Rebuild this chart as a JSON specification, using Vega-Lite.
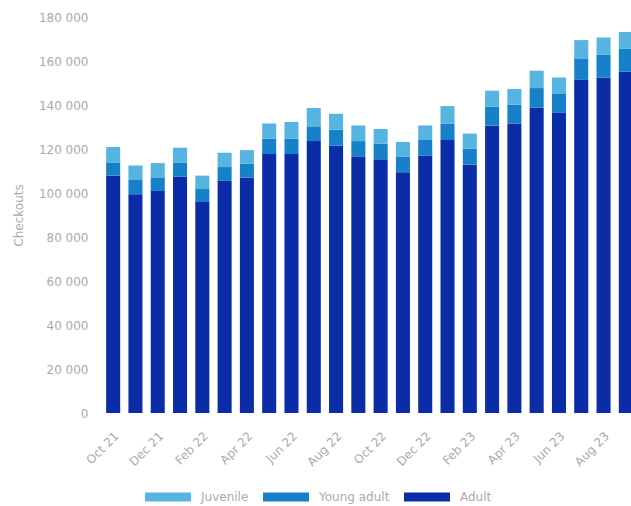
{
  "$schema": "https://vega.github.io/schema/vega-lite/v6.json",
  "width": 549,
  "height": 396,
  "autosize": {"type": "none"},
  "padding": {"left": 95, "top": 17, "right": 0, "bottom": 93},
  "background": "white",
  "config": {"view": {"stroke": null}, "font": "DejaVu Sans"},
  "data": {
    "values": [
      {"month": "Oct 21", "Adult": 108000, "Young adult": 5900, "Juvenile": 7000},
      {"month": "Nov 21", "Adult": 99400, "Young adult": 6500, "Juvenile": 6600},
      {"month": "Dec 21", "Adult": 100900, "Young adult": 6200, "Juvenile": 6500},
      {"month": "Jan 22", "Adult": 107500, "Young adult": 6400, "Juvenile": 6700},
      {"month": "Feb 22", "Adult": 95900, "Young adult": 5900, "Juvenile": 6100},
      {"month": "Mar 22", "Adult": 105500, "Young adult": 6300, "Juvenile": 6500},
      {"month": "Apr 22", "Adult": 107100, "Young adult": 6200, "Juvenile": 6200},
      {"month": "May 22", "Adult": 117700, "Young adult": 7000, "Juvenile": 6900},
      {"month": "Jun 22", "Adult": 117700, "Young adult": 7000, "Juvenile": 7600},
      {"month": "Jul 22", "Adult": 123600, "Young adult": 6700, "Juvenile": 8300},
      {"month": "Aug 22", "Adult": 121500, "Young adult": 7300, "Juvenile": 7200},
      {"month": "Sep 22", "Adult": 116400, "Young adult": 7200, "Juvenile": 7100},
      {"month": "Oct 22", "Adult": 115300, "Young adult": 7100, "Juvenile": 6700},
      {"month": "Nov 22", "Adult": 109400, "Young adult": 7000, "Juvenile": 6800},
      {"month": "Dec 22", "Adult": 117000, "Young adult": 7100, "Juvenile": 6600},
      {"month": "Jan 23", "Adult": 124100, "Young adult": 7500, "Juvenile": 7900},
      {"month": "Feb 23", "Adult": 113000, "Young adult": 7100, "Juvenile": 6900},
      {"month": "Mar 23", "Adult": 130600, "Young adult": 8600, "Juvenile": 7300},
      {"month": "Apr 23", "Adult": 131600, "Young adult": 8500, "Juvenile": 7200},
      {"month": "May 23", "Adult": 138900, "Young adult": 8800, "Juvenile": 7900},
      {"month": "Jun 23", "Adult": 136400, "Young adult": 8600, "Juvenile": 7500},
      {"month": "Jul 23", "Adult": 151400, "Young adult": 9800, "Juvenile": 8300},
      {"month": "Aug 23", "Adult": 152400, "Young adult": 10500, "Juvenile": 7800},
      {"month": "Sep 23", "Adult": 155100, "Young adult": 10400, "Juvenile": 7700}
    ]
  },
  "transform": [
    {"fold": ["Adult", "Young adult", "Juvenile"], "as": ["group", "checkouts"]},
    {"calculate": "indexof(['Adult','Young adult','Juvenile'], datum.group)", "as": "stackOrder"}
  ],
  "mark": {"type": "bar"},
  "encoding": {
    "x": {
      "field": "month",
      "type": "ordinal",
      "sort": null,
      "scale": {"paddingInner": 0.37, "paddingOuter": 0.5},
      "axis": {
        "title": null,
        "values": ["Oct 21", "Dec 21", "Feb 22", "Apr 22", "Jun 22", "Aug 22", "Oct 22", "Dec 22", "Feb 23", "Apr 23", "Jun 23", "Aug 23"],
        "labelAngle": -45,
        "ticks": false,
        "domain": false,
        "labelPadding": 17,
        "labelFontSize": 12,
        "labelColor": "#aaaaaa"
      }
    },
    "y": {
      "field": "checkouts",
      "type": "quantitative",
      "stack": "zero",
      "scale": {"domain": [0, 180000]},
      "axis": {
        "values": [0, 20000, 40000, 60000, 80000, 100000, 120000, 140000, 160000, 180000],
        "labelExpr": "replace(format(datum.value, ','), ',', ' ')",
        "grid": false,
        "domain": false,
        "ticks": false,
        "labelPadding": 7,
        "labelFontSize": 12,
        "labelColor": "#aaaaaa",
        "title": "Checkouts",
        "titleFontSize": 12,
        "titleFontWeight": "normal",
        "titleColor": "#aaaaaa",
        "titlePadding": 13
      }
    },
    "color": {
      "field": "group",
      "type": "nominal",
      "scale": {"domain": ["Juvenile", "Young adult", "Adult"], "range": ["#55b4e0", "#1681c8", "#0a2ca6"]},
      "legend": {
        "title": null,
        "orient": "none",
        "legendX": 50,
        "legendY": 457,
        "direction": "horizontal",
        "symbolType": "M-1,-0.2H1V0.2H-1Z",
        "symbolSize": 2116,
        "symbolStrokeWidth": 0,
        "symbolOpacity": 1,
        "labelOffset": 10,
        "columnPadding": 14,
        "labelFontSize": 12,
        "labelColor": "#aaaaaa"
      }
    },
    "order": {"field": "stackOrder", "type": "quantitative"}
  }
}
